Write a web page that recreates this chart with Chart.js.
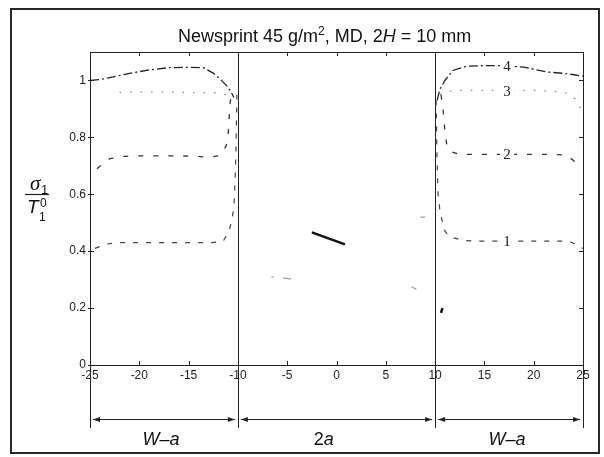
<!DOCTYPE html>
<html>
<head>
<meta charset="utf-8">
<script src="https://cdn.jsdelivr.net/npm/chart.js@4.4.1/dist/chart.umd.min.js"></script>
<style>
  html, body { margin: 0; padding: 0; background: #fff; }
  canvas { display: block; }
</style>
</head>
<body>
<canvas id="myChart" width="604" height="457"></canvas>
<script>
// axis ticks
const xTicks = [-25, -20, -15, -10, -5, 0, 5, 10, 15, 20, 25];
const yTicks = [0, 0.2, 0.4, 0.6, 0.8, 1];

// curve 4 (top, dash-dot)
const c4LeftX = [-25, -24, -23, -21, -19, -17, -15, -13.5, -12.5, -11.8, -11.1, -10.7, -10.4];
const c4LeftY = [1.0, 1.003, 1.01, 1.025, 1.037, 1.045, 1.046, 1.045, 1.026, 1.005, 0.98, 0.96, 0.94];
const c4RightX = [10.2, 10.5, 11, 11.8, 13.2, 15, 16.5, 19, 21.3, 23, 24.1, 25];
const c4RightY = [0.93, 0.97, 1.0, 1.035, 1.05, 1.052, 1.052, 1.047, 1.03, 1.025, 1.02, 1.015];

// curve 3 (dotted)
const c3LeftX = [-22, -20, -18, -16, -14, -12.5, -11.8, -11.2, -10.7];
const c3LeftY = [0.958, 0.96, 0.96, 0.958, 0.957, 0.957, 0.955, 0.95, 0.945];
const c3RightX = [10.5, 11.2, 12, 14, 16, 18, 20, 22, 23.5, 24.2, 24.7, 25];
const c3RightY = [0.95, 0.96, 0.965, 0.965, 0.965, 0.965, 0.965, 0.962, 0.955, 0.935, 0.905, 0.88];

// curve 2 (dashed)
const c2LeftX = [-24.3, -23, -21.5, -20.5, -18, -16, -14, -12.9, -12, -11.5, -11.2, -11, -10.9, -10.8, -10.6];
const c2LeftY = [0.69, 0.725, 0.733, 0.735, 0.735, 0.735, 0.733, 0.73, 0.735, 0.75, 0.77, 0.8, 0.86, 0.92, 0.96];
const c2RightX = [10.6, 10.8, 11, 11.2, 11.6, 12.5, 14, 16, 18, 20, 22, 23.3, 24, 24.5];
const c2RightY = [0.95, 0.9, 0.82, 0.77, 0.75, 0.74, 0.74, 0.74, 0.74, 0.74, 0.74, 0.738, 0.72, 0.70];

// curve 1 (bottom, short dashes)
const c1LeftX = [-24.5, -23.3, -22.3, -20, -18, -16, -14.5, -12.7, -11.5, -10.9, -10.6, -10.4, -10.3, -10.2, -10.15, -10.1];
const c1LeftY = [0.41, 0.425, 0.43, 0.43, 0.43, 0.43, 0.43, 0.43, 0.435, 0.47, 0.51, 0.56, 0.64, 0.74, 0.85, 0.95];
const c1RightX = [10.1, 10.15, 10.2, 10.3, 10.5, 10.7, 11, 11.5, 13, 15, 17, 19, 21, 23.6, 24.6, 25];
const c1RightY = [0.93, 0.82, 0.72, 0.6, 0.54, 0.51, 0.47, 0.45, 0.437, 0.435, 0.435, 0.435, 0.435, 0.435, 0.417, 0.41];

// dark marks inside / near the crack zone (null = break)
const strokeX = [-2.5, 0.86, null, 10.6, 10.75];
const strokeY = [0.466, 0.424, null, 0.183, 0.2];

// faint specks (null = break)
const speckX = [-5.4, -4.6, null, -6.6, -6.4, null, 7.6, 8.1, null, 8.5, 9.0];
const speckY = [0.305, 0.303, null, 0.31, 0.31, null, 0.275, 0.266, null, 0.52, 0.52];

// curve numbers
const curveNames = ['1', '2', '3', '4'];
const labelX = [17.3, 17.3, 17.3, 17.3];
const labelY = [0.435, 0.74, 0.962, 1.052];

function pts(xs, ys) {
  return xs.map((v, i) => (v === null ? { x: 0, y: null } : { x: v, y: ys[i] }));
}
function halves(lx, ly, rx, ry) {
  return pts(lx, ly).concat([{ x: 0, y: null }], pts(rx, ry));
}

const sans = '"Liberation Sans", Arial, sans-serif';

const decor = {
  id: 'decor',
  afterDraw(chart) {
    const { ctx, chartArea: a, scales: { x, y } } = chart;
    ctx.save();

    // outer frame
    ctx.strokeStyle = '#2a2a2a';
    ctx.lineWidth = 2;
    ctx.strokeRect(11, 9, 588, 444);

    // plot box
    ctx.lineWidth = 1;
    ctx.strokeStyle = '#222';
    ctx.strokeRect(a.left + 0.5, a.top + 0.5, a.right - a.left, a.bottom - a.top);

    // inward ticks
    ctx.beginPath();
    xTicks.forEach(v => {
      const px = Math.round(x.getPixelForValue(v)) + 0.5;
      ctx.moveTo(px, a.bottom); ctx.lineTo(px, a.bottom - 4);
      ctx.moveTo(px, a.top); ctx.lineTo(px, a.top + 4);
    });
    yTicks.forEach(v => {
      const py = Math.round(y.getPixelForValue(v)) + 0.5;
      ctx.moveTo(a.left - 2, py); ctx.lineTo(a.left + 4, py);
      ctx.moveTo(a.right, py); ctx.lineTo(a.right - 4, py);
    });
    ctx.stroke();

    // region dividers and dimension lines
    const bounds = [-25, -10, 10, 25];
    const lineEnd = 428, arrowY = 419.5;
    ctx.beginPath();
    bounds.forEach(v => {
      const px = Math.round(x.getPixelForValue(v)) + 0.5;
      ctx.moveTo(px, (v === -10 || v === 10) ? a.top : a.bottom);
      ctx.lineTo(px, lineEnd);
    });
    ctx.stroke();

    ctx.fillStyle = '#222';
    for (let i = 0; i < 3; i++) {
      const x0 = x.getPixelForValue(bounds[i]) + 3;
      const x1 = x.getPixelForValue(bounds[i + 1]) - 3;
      ctx.beginPath();
      ctx.moveTo(x0, arrowY); ctx.lineTo(x1, arrowY);
      ctx.stroke();
      ctx.beginPath();
      ctx.moveTo(x0, arrowY); ctx.lineTo(x0 + 7, arrowY - 2.5); ctx.lineTo(x0 + 7, arrowY + 2.5);
      ctx.closePath(); ctx.fill();
      ctx.beginPath();
      ctx.moveTo(x1, arrowY); ctx.lineTo(x1 - 7, arrowY - 2.5); ctx.lineTo(x1 - 7, arrowY + 2.5);
      ctx.closePath(); ctx.fill();
    }

    // dimension labels
    ctx.fillStyle = '#111';
    ctx.textBaseline = 'alphabetic';
    ctx.textAlign = 'center';
    ctx.font = 'italic 18px ' + sans;
    ctx.fillText('W\u2013a', x.getPixelForValue(-17.8), 445);
    ctx.fillText('W\u2013a', x.getPixelForValue(17.3), 445);
    ctx.textAlign = 'left';
    const cx = x.getPixelForValue(-1.3);
    ctx.font = '18px ' + sans;
    const w2 = ctx.measureText('2').width;
    ctx.font = 'italic 18px ' + sans;
    const wa = ctx.measureText('a').width;
    ctx.font = '18px ' + sans;
    ctx.fillText('2', cx - (w2 + wa) / 2, 445);
    ctx.font = 'italic 18px ' + sans;
    ctx.fillText('a', cx - (w2 + wa) / 2 + w2, 445);

    // title with superscript and italic H
    let tx = 178;
    const tb = 42;
    const parts = [
      ['Newsprint 45 g/m', '18px ' + sans, 0],
      ['2', '12px ' + sans, -7],
      [', MD, 2', '18px ' + sans, 0],
      ['H', 'italic 18px ' + sans, 0],
      [' = 10 mm', '18px ' + sans, 0]
    ];
    parts.forEach(([t, f, dy]) => {
      ctx.font = f;
      ctx.fillText(t, tx, tb + dy);
      tx += ctx.measureText(t).width;
    });

    // y axis title: sigma_1 / T_1^0
    ctx.font = 'italic 21px "Liberation Serif", serif';
    ctx.fillText('\u03c3', 30, 190);
    ctx.font = '13px ' + sans;
    ctx.fillText('1', 41, 194);
    ctx.beginPath();
    ctx.lineWidth = 1.2;
    ctx.moveTo(25, 194.5); ctx.lineTo(49, 194.5);
    ctx.stroke();
    ctx.font = 'italic 19px ' + sans;
    ctx.fillText('T', 27, 213);
    ctx.font = '12px ' + sans;
    ctx.fillText('0', 40, 207);
    ctx.fillText('1', 39, 221);

    ctx.restore();
  },
  afterDatasetsDraw(chart) {
    const { ctx, scales: { x, y } } = chart;
    ctx.save();
    ctx.font = '15px "Liberation Serif", serif';
    ctx.textAlign = 'center';
    ctx.textBaseline = 'middle';
    curveNames.forEach((n, i) => {
      const px = x.getPixelForValue(labelX[i]);
      const py = y.getPixelForValue(labelY[i]);
      ctx.fillStyle = '#fff';
      ctx.fillRect(px - 7, py - 8, 14, 16);
      ctx.fillStyle = '#222';
      ctx.fillText(n, px, py + 1);
    });
    ctx.restore();
  }
};

const data = {
  datasets: [
    {
      data: halves(c4LeftX, c4LeftY, c4RightX, c4RightY),
      borderColor: '#222',
      borderWidth: 1.3,
      borderDash: [9, 3, 2, 3],
    },
    {
      data: halves(c3LeftX, c3LeftY, c3RightX, c3RightY),
      borderColor: '#888',
      borderWidth: 1.3,
      borderDash: [1.5, 9],
    },
    {
      data: halves(c2LeftX, c2LeftY, c2RightX, c2RightY),
      borderColor: '#333',
      borderWidth: 1.3,
      borderDash: [5, 10],
    },
    {
      data: halves(c1LeftX, c1LeftY, c1RightX, c1RightY),
      borderColor: '#444',
      borderWidth: 1.2,
      borderDash: [5, 8],
    },
    {
      data: pts(strokeX, strokeY),
      borderColor: '#111',
      borderWidth: 2.5,
    },
    {
      data: pts(speckX, speckY),
      borderColor: '#999',
      borderWidth: 1.2,
    },
  ],
};

const options = {
  responsive: false,
  animation: false,
  devicePixelRatio: 1,
  layout: { padding: { left: 60, right: 21, top: 52, bottom: 72 } },
  elements: { point: { radius: 0 }, line: { tension: 0 } },
  plugins: {
    legend: { display: false },
    tooltip: { enabled: false },
  },
  scales: {
    x: {
      type: 'linear',
      min: -25,
      max: 25,
      afterFit: s => { s.height = 20; },
      afterBuildTicks: s => { s.ticks = xTicks.map(v => ({ value: v })); },
      grid: { display: false, drawTicks: false },
      border: { display: false },
      ticks: { padding: 3, color: '#222', font: { family: sans, size: 12 } },
    },
    y: {
      type: 'linear',
      min: 0,
      max: 1.1,
      afterFit: s => { s.width = 30; },
      afterBuildTicks: s => { s.ticks = yTicks.map(v => ({ value: v })); },
      grid: { display: false, drawTicks: false },
      border: { display: false },
      ticks: {
        padding: 4,
        color: '#222',
        font: { family: sans, size: 12 },
        callback: v => String(Math.round(v * 10) / 10),
      },
    },
  },
};

const config = {
  type: 'line',
  data: data,
  options,
  plugins: [decor],
};

const myChart = new Chart(document.getElementById('myChart'), config);
</script>
</body>
</html>
